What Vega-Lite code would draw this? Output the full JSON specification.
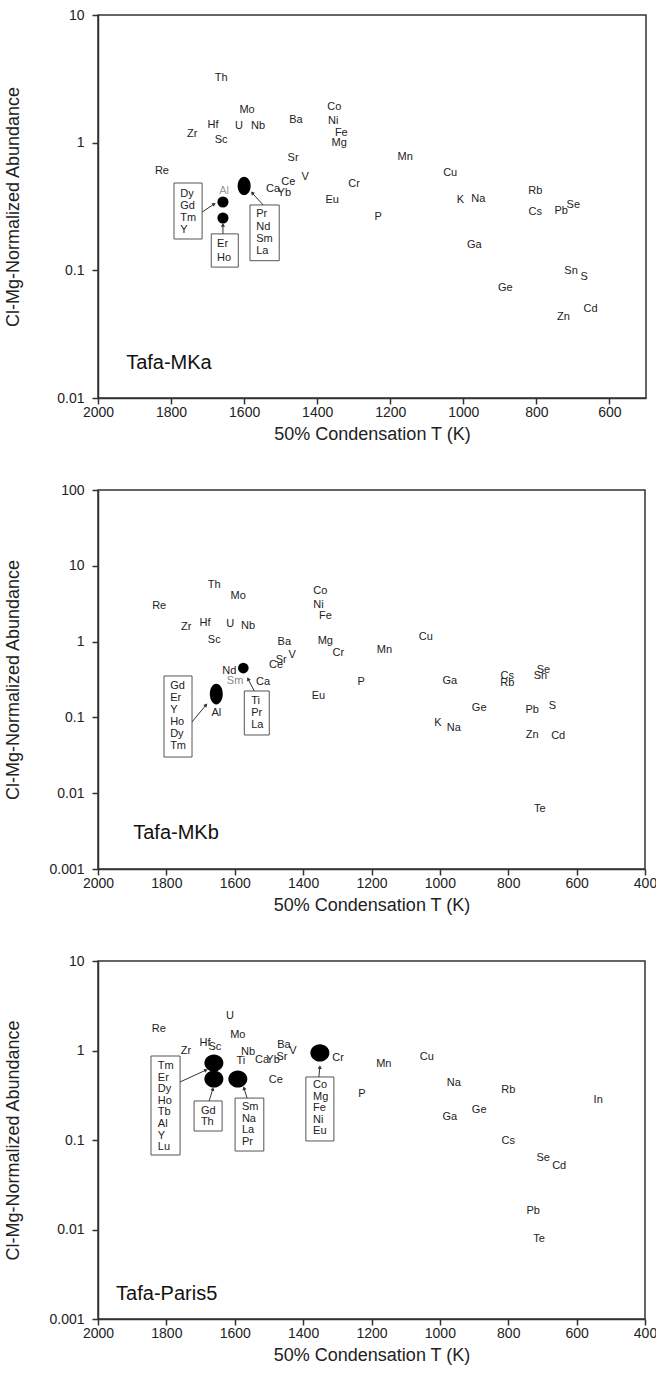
{
  "$schema": "https://vega.github.io/schema/vega-lite/v6.json",
  "padding": {"left": 3, "top": 7, "right": 4, "bottom": 4},
  "background": "white",
  "config": {
    "font": "Liberation Sans",
    "view": {"stroke": "#333", "strokeWidth": 1.5},
    "axis": {"domainColor": "#333", "domainWidth": 1.5, "tickColor": "#333", "tickWidth": 1.5, "tickSize": 6, "labelFontSize": 14, "titleFontSize": 18, "titleFontWeight": "normal", "labelColor": "#222", "titleColor": "#222", "grid": false, "labelFlush": false, "labelFont": "Liberation Sans", "titleFont": "Liberation Sans"},
    "axisY": {"minExtent": 62, "maxExtent": 62, "titlePadding": 14, "labelPadding": 8},
    "axisX": {"labelPadding": 1, "titlePadding": 6}
  },
  "spacing": 38,
  "resolve": {"scale": {"x": "independent", "y": "independent"}},
  "datasets": {
    "p1_labels": [
      {"T": 1663, "A": 3.21, "label": "Th"}, {"T": 1592, "A": 1.80, "label": "Mo"}, {"T": 1685, "A": 1.38, "label": "Hf"}, {"T": 1614, "A": 1.35, "label": "U"}, {"T": 1562, "A": 1.35, "label": "Nb"}, {"T": 1742, "A": 1.17, "label": "Zr"}, {"T": 1663, "A": 1.05, "label": "Sc"}, {"T": 1458, "A": 1.51, "label": "Ba"}, {"T": 1353, "A": 1.90, "label": "Co"}, {"T": 1356, "A": 1.48, "label": "Ni"}, {"T": 1334, "A": 1.19, "label": "Fe"}, {"T": 1340, "A": 1.00, "label": "Mg"}, {"T": 1466, "A": 0.76, "label": "Sr"}, {"T": 1825, "A": 0.60, "label": "Re"}, {"T": 1479, "A": 0.49, "label": "Ce"}, {"T": 1433, "A": 0.54, "label": "V"}, {"T": 1521, "A": 0.434, "label": "Ca"}, {"T": 1490, "A": 0.40, "label": "Yb"}, {"T": 1299, "A": 0.475, "label": "Cr"}, {"T": 1359, "A": 0.356, "label": "Eu"}, {"T": 1233, "A": 0.263, "label": "P"}, {"T": 1159, "A": 0.774, "label": "Mn"}, {"T": 1036, "A": 0.58, "label": "Cu"}, {"T": 803, "A": 0.42, "label": "Rb"}, {"T": 1008, "A": 0.356, "label": "K"}, {"T": 959, "A": 0.36, "label": "Na"}, {"T": 803, "A": 0.286, "label": "Cs"}, {"T": 732, "A": 0.29, "label": "Pb"}, {"T": 699, "A": 0.325, "label": "Se"}, {"T": 970, "A": 0.158, "label": "Ga"}, {"T": 705, "A": 0.099, "label": "Sn"}, {"T": 669, "A": 0.089, "label": "S"}, {"T": 885, "A": 0.0728, "label": "Ge"}, {"T": 652, "A": 0.050, "label": "Cd"}, {"T": 726, "A": 0.043, "label": "Zn"}
    ],
    "p1_faint": [{"T": 1655, "A": 0.42, "label": "Al"}],
    "p1_dots": [{"T": 1658, "A": 0.343}, {"T": 1658, "A": 0.257}],
    "p1_ovals": [{"T": 1600, "A": 0.458}],
    "p1_boxes": [
      {"T": 1792, "T2": 1715, "A": 0.483, "A2": 0.176},
      {"T": 1690, "T2": 1616, "A": 0.193, "A2": 0.106},
      {"T": 1584, "T2": 1504, "A": 0.325, "A2": 0.119}
    ],
    "p1_boxtext": [
      {"T": 1775, "A": 0.396, "label": "Dy"}, {"T": 1775, "A": 0.319, "label": "Gd"}, {"T": 1775, "A": 0.257, "label": "Tm"}, {"T": 1775, "A": 0.207, "label": "Y"},
      {"T": 1674, "A": 0.161, "label": "Er"}, {"T": 1674, "A": 0.125, "label": "Ho"},
      {"T": 1567, "A": 0.277, "label": "Pr"}, {"T": 1567, "A": 0.219, "label": "Nd"}, {"T": 1567, "A": 0.176, "label": "Sm"}, {"T": 1567, "A": 0.142, "label": "La"}
    ],
    "p1_arrows": [
      {"T": 1682, "A": 0.331, "T0": 1715, "A0": 0.286, "dir": 56},
      {"T": 1658, "A": 0.227, "T0": 1658, "A0": 0.193, "dir": 0},
      {"T": 1578, "A": 0.404, "T0": 1548, "A0": 0.325, "dir": 317}
    ],
    "p1_name": [{"T": 1923, "A": 0.0188, "label": "Tafa-MKa"}],

    "p2_labels": [
      {"T": 1660, "A": 5.58, "label": "Th"}, {"T": 1590, "A": 4.0, "label": "Mo"}, {"T": 1821, "A": 2.95, "label": "Re"}, {"T": 1350, "A": 4.65, "label": "Co"}, {"T": 1355, "A": 3.04, "label": "Ni"}, {"T": 1335, "A": 2.18, "label": "Fe"}, {"T": 1742, "A": 1.56, "label": "Zr"}, {"T": 1687, "A": 1.76, "label": "Hf"}, {"T": 1613, "A": 1.70, "label": "U"}, {"T": 1561, "A": 1.61, "label": "Nb"}, {"T": 1660, "A": 1.05, "label": "Sc"}, {"T": 1455, "A": 0.99, "label": "Ba"}, {"T": 1335, "A": 1.02, "label": "Mg"}, {"T": 1162, "A": 0.776, "label": "Mn"}, {"T": 1297, "A": 0.708, "label": "Cr"}, {"T": 1432, "A": 0.666, "label": "V"}, {"T": 1464, "A": 0.575, "label": "Sr"}, {"T": 1479, "A": 0.49, "label": "Ce"}, {"T": 1616, "A": 0.41, "label": "Nd"}, {"T": 1517, "A": 0.29, "label": "Ca"}, {"T": 1355, "A": 0.19, "label": "Eu"}, {"T": 1230, "A": 0.29, "label": "P"}, {"T": 1654, "A": 0.114, "label": "Al"}, {"T": 1041, "A": 1.15, "label": "Cu"}, {"T": 971, "A": 0.30, "label": "Ga"}, {"T": 803, "A": 0.352, "label": "Cs"}, {"T": 803, "A": 0.284, "label": "Rb"}, {"T": 697, "A": 0.42, "label": "Se"}, {"T": 706, "A": 0.35, "label": "Sn"}, {"T": 885, "A": 0.133, "label": "Ge"}, {"T": 730, "A": 0.126, "label": "Pb"}, {"T": 671, "A": 0.141, "label": "S"}, {"T": 1006, "A": 0.085, "label": "K"}, {"T": 959, "A": 0.072, "label": "Na"}, {"T": 730, "A": 0.059, "label": "Zn"}, {"T": 654, "A": 0.057, "label": "Cd"}, {"T": 708, "A": 0.0062, "label": "Te"}
    ],
    "p2_faint": [{"T": 1599, "A": 0.30, "label": "Sm"}],
    "p2_dots": [{"T": 1575, "A": 0.447}],
    "p2_ovals": [{"T": 1654, "A": 0.203}],
    "p2_boxes": [
      {"T": 1807, "T2": 1725, "A": 0.352, "A2": 0.030},
      {"T": 1572, "T2": 1499, "A": 0.223, "A2": 0.0586}
    ],
    "p2_boxtext": [
      {"T": 1789, "A": 0.26, "label": "Gd"}, {"T": 1789, "A": 0.180, "label": "Er"}, {"T": 1789, "A": 0.126, "label": "Y"}, {"T": 1789, "A": 0.087, "label": "Ho"}, {"T": 1789, "A": 0.060, "label": "Dy"}, {"T": 1789, "A": 0.042, "label": "Tm"},
      {"T": 1552, "A": 0.164, "label": "Ti"}, {"T": 1552, "A": 0.115, "label": "Pr"}, {"T": 1552, "A": 0.079, "label": "La"}
    ],
    "p2_arrows": [
      {"T": 1684, "A": 0.146, "T0": 1725, "A0": 0.087, "dir": 40},
      {"T": 1561, "A": 0.321, "T0": 1543, "A0": 0.223, "dir": 333}
    ],
    "p2_name": [{"T": 1897, "A": 0.0030, "label": "Tafa-MKb"}],

    "p3_labels": [
      {"T": 1614, "A": 2.43, "label": "U"}, {"T": 1822, "A": 1.74, "label": "Re"}, {"T": 1591, "A": 1.49, "label": "Mo"}, {"T": 1687, "A": 1.21, "label": "Hf"}, {"T": 1658, "A": 1.09, "label": "Sc"}, {"T": 1743, "A": 1.0, "label": "Zr"}, {"T": 1561, "A": 0.97, "label": "Nb"}, {"T": 1582, "A": 0.76, "label": "Ti"}, {"T": 1456, "A": 1.15, "label": "Ba"}, {"T": 1430, "A": 1.0, "label": "V"}, {"T": 1462, "A": 0.845, "label": "Sr"}, {"T": 1520, "A": 0.78, "label": "Ca"}, {"T": 1488, "A": 0.78, "label": "Yb"}, {"T": 1480, "A": 0.468, "label": "Ce"}, {"T": 1298, "A": 0.824, "label": "Cr"}, {"T": 1164, "A": 0.707, "label": "Mn"}, {"T": 1228, "A": 0.327, "label": "P"}, {"T": 1038, "A": 0.845, "label": "Cu"}, {"T": 959, "A": 0.434, "label": "Na"}, {"T": 800, "A": 0.363, "label": "Rb"}, {"T": 537, "A": 0.28, "label": "In"}, {"T": 885, "A": 0.216, "label": "Ge"}, {"T": 971, "A": 0.181, "label": "Ga"}, {"T": 800, "A": 0.098, "label": "Cs"}, {"T": 698, "A": 0.063, "label": "Se"}, {"T": 651, "A": 0.051, "label": "Cd"}, {"T": 727, "A": 0.0161, "label": "Pb"}, {"T": 710, "A": 0.00783, "label": "Te"}
    ],
    "p3_dots": [{"T": 1661, "A": 0.724}, {"T": 1661, "A": 0.48}, {"T": 1591, "A": 0.48}, {"T": 1351, "A": 0.94}],
    "p3_boxes": [
      {"T": 1845, "T2": 1760, "A": 0.868, "A2": 0.068},
      {"T": 1719, "T2": 1637, "A": 0.273, "A2": 0.126},
      {"T": 1599, "T2": 1515, "A": 0.294, "A2": 0.0753},
      {"T": 1392, "T2": 1310, "A": 0.506, "A2": 0.0975}
    ],
    "p3_boxtext": [
      {"T": 1825, "A": 0.671, "label": "Tm"}, {"T": 1825, "A": 0.493, "label": "Er"}, {"T": 1825, "A": 0.372, "label": "Dy"}, {"T": 1825, "A": 0.273, "label": "Ho"}, {"T": 1825, "A": 0.206, "label": "Tb"}, {"T": 1825, "A": 0.151, "label": "Al"}, {"T": 1825, "A": 0.111, "label": "Y"}, {"T": 1825, "A": 0.0835, "label": "Lu"},
      {"T": 1699, "A": 0.211, "label": "Gd"}, {"T": 1699, "A": 0.159, "label": "Th"},
      {"T": 1579, "A": 0.234, "label": "Sm"}, {"T": 1579, "A": 0.172, "label": "Na"}, {"T": 1579, "A": 0.129, "label": "La"}, {"T": 1579, "A": 0.0955, "label": "Pr"},
      {"T": 1371, "A": 0.412, "label": "Co"}, {"T": 1371, "A": 0.302, "label": "Mg"}, {"T": 1371, "A": 0.228, "label": "Fe"}, {"T": 1371, "A": 0.167, "label": "Ni"}, {"T": 1371, "A": 0.126, "label": "Eu"}
    ],
    "p3_arrows": [
      {"T": 1684, "A": 0.605, "T0": 1760, "A0": 0.445, "dir": 65},
      {"T": 1664, "A": 0.372, "T0": 1675, "A0": 0.273, "dir": 18},
      {"T": 1573, "A": 0.38, "T0": 1564, "A0": 0.294, "dir": 343},
      {"T": 1351, "A": 0.654, "T0": 1354, "A0": 0.506, "dir": 5}
    ],
    "p3_name": [{"T": 1947, "A": 0.0019, "label": "Tafa-Paris5"}]
  },
  "vconcat": [
    {
      "width": 548, "height": 383,
      "encoding": {
        "x": {"field": "T", "type": "quantitative", "scale": {"domain": [2000, 500], "nice": false, "zero": false}, "axis": {"title": "50% Condensation T (K)", "values": [2000, 1800, 1600, 1400, 1200, 1000, 800, 600], "format": "d"}},
        "y": {"field": "A", "type": "quantitative", "scale": {"type": "log", "domain": [0.01, 10], "nice": false}, "axis": {"title": "Cl-Mg-Normalized Abundance", "values": [0.01, 0.1, 1, 10], "format": "~g"}}
      },
      "layer": [
        {"data": {"name": "p1_boxes"}, "mark": {"type": "rect", "fill": "white", "stroke": "#555", "strokeWidth": 1}, "encoding": {"x2": {"field": "T2"}, "y2": {"field": "A2"}}},
        {"data": {"name": "p1_arrows"}, "mark": {"type": "rule", "color": "#333", "strokeWidth": 1}, "encoding": {"x2": {"field": "T0"}, "y2": {"field": "A0"}}},
        {"data": {"name": "p1_arrows"}, "mark": {"type": "point", "shape": "triangle-up", "filled": true, "color": "#333", "size": 18, "opacity": 1}, "encoding": {"angle": {"field": "dir", "type": "quantitative", "scale": null}}},
        {"data": {"name": "p1_dots"}, "mark": {"type": "point", "shape": "circle", "filled": true, "color": "black", "size": 123, "opacity": 1}},
        {"data": {"name": "p1_ovals"}, "mark": {"type": "point", "shape": "M0,-1.4A1,1.4 0 1,1 0,1.4A1,1.4 0 1,1 0,-1.4Z", "filled": true, "color": "black", "size": 169, "opacity": 1}},
        {"data": {"name": "p1_labels"}, "mark": {"type": "text", "fontSize": 11, "color": "#222"}, "encoding": {"text": {"field": "label"}}},
        {"data": {"name": "p1_faint"}, "mark": {"type": "text", "fontSize": 11, "color": "#999"}, "encoding": {"text": {"field": "label"}}},
        {"data": {"name": "p1_boxtext"}, "mark": {"type": "text", "fontSize": 11, "align": "left", "color": "#222"}, "encoding": {"text": {"field": "label"}}},
        {"data": {"name": "p1_name"}, "mark": {"type": "text", "fontSize": 20, "align": "left", "color": "#111"}, "encoding": {"text": {"field": "label"}}}
      ]
    },
    {
      "width": 547, "height": 379,
      "encoding": {
        "x": {"field": "T", "type": "quantitative", "scale": {"domain": [2000, 400], "nice": false, "zero": false}, "axis": {"title": "50% Condensation T (K)", "values": [2000, 1800, 1600, 1400, 1200, 1000, 800, 600, 400], "format": "d"}},
        "y": {"field": "A", "type": "quantitative", "scale": {"type": "log", "domain": [0.001, 100], "nice": false}, "axis": {"title": "Cl-Mg-Normalized Abundance", "values": [0.001, 0.01, 0.1, 1, 10, 100], "format": "~g"}}
      },
      "layer": [
        {"data": {"name": "p2_boxes"}, "mark": {"type": "rect", "fill": "white", "stroke": "#555", "strokeWidth": 1}, "encoding": {"x2": {"field": "T2"}, "y2": {"field": "A2"}}},
        {"data": {"name": "p2_arrows"}, "mark": {"type": "rule", "color": "#333", "strokeWidth": 1}, "encoding": {"x2": {"field": "T0"}, "y2": {"field": "A0"}}},
        {"data": {"name": "p2_arrows"}, "mark": {"type": "point", "shape": "triangle-up", "filled": true, "color": "#333", "size": 18, "opacity": 1}, "encoding": {"angle": {"field": "dir", "type": "quantitative", "scale": null}}},
        {"data": {"name": "p2_dots"}, "mark": {"type": "point", "shape": "circle", "filled": true, "color": "black", "size": 113, "opacity": 1}},
        {"data": {"name": "p2_ovals"}, "mark": {"type": "point", "shape": "M0,-1.6A1,1.6 0 1,1 0,1.6A1,1.6 0 1,1 0,-1.6Z", "filled": true, "color": "black", "size": 169, "opacity": 1}},
        {"data": {"name": "p2_labels"}, "mark": {"type": "text", "fontSize": 11, "color": "#222"}, "encoding": {"text": {"field": "label"}}},
        {"data": {"name": "p2_faint"}, "mark": {"type": "text", "fontSize": 11, "color": "#888"}, "encoding": {"text": {"field": "label"}}},
        {"data": {"name": "p2_boxtext"}, "mark": {"type": "text", "fontSize": 11, "align": "left", "color": "#222"}, "encoding": {"text": {"field": "label"}}},
        {"data": {"name": "p2_name"}, "mark": {"type": "text", "fontSize": 20, "align": "left", "color": "#111"}, "encoding": {"text": {"field": "label"}}}
      ]
    },
    {
      "width": 547, "height": 358,
      "encoding": {
        "x": {"field": "T", "type": "quantitative", "scale": {"domain": [2000, 400], "nice": false, "zero": false}, "axis": {"title": "50% Condensation T (K)", "values": [2000, 1800, 1600, 1400, 1200, 1000, 800, 600, 400], "format": "d"}},
        "y": {"field": "A", "type": "quantitative", "scale": {"type": "log", "domain": [0.001, 10], "nice": false}, "axis": {"title": "Cl-Mg-Normalized Abundance", "values": [0.001, 0.01, 0.1, 1, 10], "format": "~g"}}
      },
      "layer": [
        {"data": {"name": "p3_boxes"}, "mark": {"type": "rect", "fill": "white", "stroke": "#555", "strokeWidth": 1}, "encoding": {"x2": {"field": "T2"}, "y2": {"field": "A2"}}},
        {"data": {"name": "p3_arrows"}, "mark": {"type": "rule", "color": "#333", "strokeWidth": 1}, "encoding": {"x2": {"field": "T0"}, "y2": {"field": "A0"}}},
        {"data": {"name": "p3_arrows"}, "mark": {"type": "point", "shape": "triangle-up", "filled": true, "color": "#333", "size": 18, "opacity": 1}, "encoding": {"angle": {"field": "dir", "type": "quantitative", "scale": null}}},
        {"data": {"name": "p3_dots"}, "mark": {"type": "point", "shape": "M0,-0.9A1,0.9 0 1,1 0,0.9A1,0.9 0 1,1 0,-0.9Z", "filled": true, "color": "black", "size": 361, "opacity": 1}},
        {"data": {"name": "p3_labels"}, "mark": {"type": "text", "fontSize": 11, "color": "#222"}, "encoding": {"text": {"field": "label"}}},
        {"data": {"name": "p3_boxtext"}, "mark": {"type": "text", "fontSize": 11, "align": "left", "color": "#222"}, "encoding": {"text": {"field": "label"}}},
        {"data": {"name": "p3_name"}, "mark": {"type": "text", "fontSize": 20, "align": "left", "color": "#111"}, "encoding": {"text": {"field": "label"}}}
      ]
    }
  ]
}
